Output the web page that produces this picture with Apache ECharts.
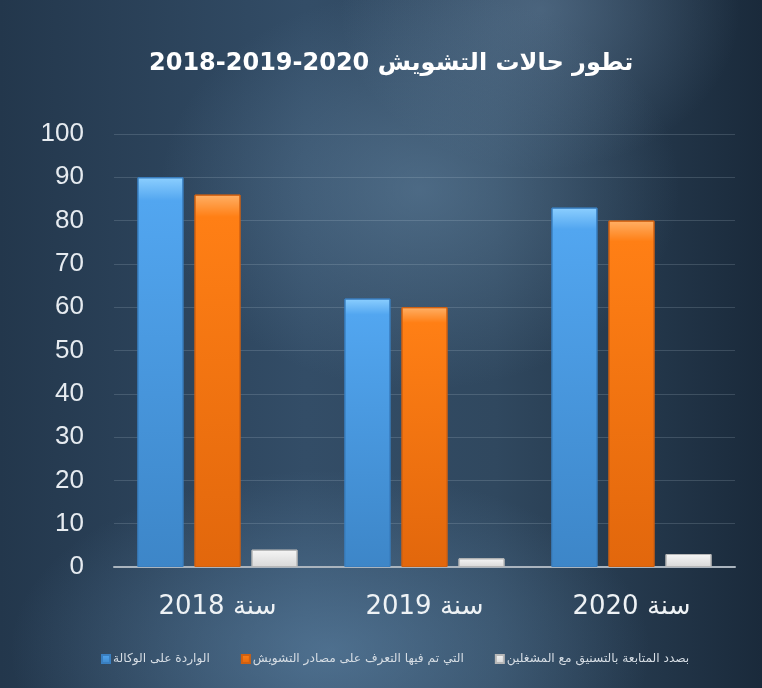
<!DOCTYPE html>
<html>
<head>
<meta charset="utf-8">
<script src="https://cdn.jsdelivr.net/npm/echarts@6/dist/echarts.min.js"></script>
<style>
    html, body { margin: 0; padding: 0; }
    body {
        width: 762px;
        height: 688px;
        background:
            radial-gradient(ellipse 260px 200px at 420px 190px, rgba(110,145,175,0.45), rgba(110,145,175,0) 100%),
            radial-gradient(ellipse 320px 180px at 330px 650px, rgba(100,140,175,0.55), rgba(100,140,175,0) 100%),
            radial-gradient(ellipse 200px 160px at 540px 10px, rgba(120,150,180,0.4), rgba(120,150,180,0) 100%),
            linear-gradient(90deg, #23374c 0%, #334d67 40%, #30485f 65%, #1a2a3b 100%);
    }
    #main { width: 762px; height: 688px; }
</style>
</head>
<body>
<div id="main"></div>
<script>
var categories = ['سنة 2018', 'سنة 2019', 'سنة 2020'];
var seriesNames = ['الواردة على الوكالة', 'التي تم فيها التعرف على مصادر التشويش', 'بصدد المتابعة بالتسنيق مع المشغلين'];
var received = [90, 62, 83];
var identified = [86, 60, 80];
var followUp = [4, 2, 3];
var titleWords = 'تطور حالات التشويش';
var titleYears = '2018-2019-2020';

// rtl isolate so the arabic text keeps its order inside the ltr canvas
function rtl(s) {
    return '\u2067' + s + '\u2069';
}
function ltr(s) {
    return '\u2066' + s + '\u2069';
}

function grad(top, mid, bottom) {
    return new echarts.graphic.LinearGradient(0, 0, 0, 1, [
        { offset: 0, color: top },
        { offset: 0.06, color: mid },
        { offset: 1, color: bottom }
    ]);
}

var myChart = echarts.init(document.getElementById('main'));
var option = {
    backgroundColor: 'transparent',
    title: {
        text: rtl(titleWords + ' ' + ltr(titleYears)),
        left: 144,
        top: 47,
        textStyle: {
            color: '#ffffff',
            fontSize: 24,
            fontWeight: 'bold',
            fontFamily: 'DejaVu Sans'
        }
    },
    legend: {
        bottom: 18,
        left: 96,
        itemWidth: 8,
        itemHeight: 8,
        itemGap: 31,
        icon: 'rect',
        formatter: function (name) {
            return rtl(name);
        },
        textStyle: {
            color: '#d6dde4',
            fontSize: 12.2,
            fontFamily: 'DejaVu Sans',
            padding: [0, 0, 0, -2]
        },
        data: seriesNames
    },
    grid: {
        left: 114,
        right: 27,
        top: 134,
        bottom: 121,
        containLabel: false
    },
    xAxis: {
        type: 'category',
        data: categories,
        axisLine: {
            lineStyle: { color: '#aab4be', width: 2 }
        },
        axisTick: { show: false },
        axisLabel: {
            color: '#eef2f5',
            fontSize: 26,
            margin: 27,
            fontFamily: 'DejaVu Sans',
            formatter: function (v) {
                return rtl(v);
            }
        }
    },
    yAxis: {
        type: 'value',
        min: 0,
        max: 100,
        interval: 10,
        axisLine: { show: false },
        axisTick: { show: false },
        splitLine: {
            lineStyle: { color: 'rgba(200,215,230,0.18)', width: 1 }
        },
        axisLabel: {
            color: '#e6ebf0',
            fontSize: 26,
            margin: 30,
            fontFamily: 'Liberation Sans'
        }
    },
    series: [{
        name: seriesNames[0],
        type: 'bar',
        data: received,
        barWidth: 46,
        barGap: '24%',
        itemStyle: {
            color: grad('#8ccfff', '#52a6f0', '#3d86c8'),
            borderColor: '#3a7fc0',
            borderWidth: 1
        }
    }, {
        name: seriesNames[1],
        type: 'bar',
        data: identified,
        barWidth: 46,
        barGap: '24%',
        itemStyle: {
            color: grad('#ffb066', '#ff7f15', '#e2670c'),
            borderColor: '#d06010',
            borderWidth: 1
        }
    }, {
        name: seriesNames[2],
        type: 'bar',
        data: followUp,
        barWidth: 46,
        barGap: '24%',
        itemStyle: {
            color: grad('#ffffff', '#f4f4f4', '#d8d8d8'),
            borderColor: '#b8b8b8',
            borderWidth: 1
        }
    }]
};
myChart.setOption(option);
</script>
</body>
</html>
